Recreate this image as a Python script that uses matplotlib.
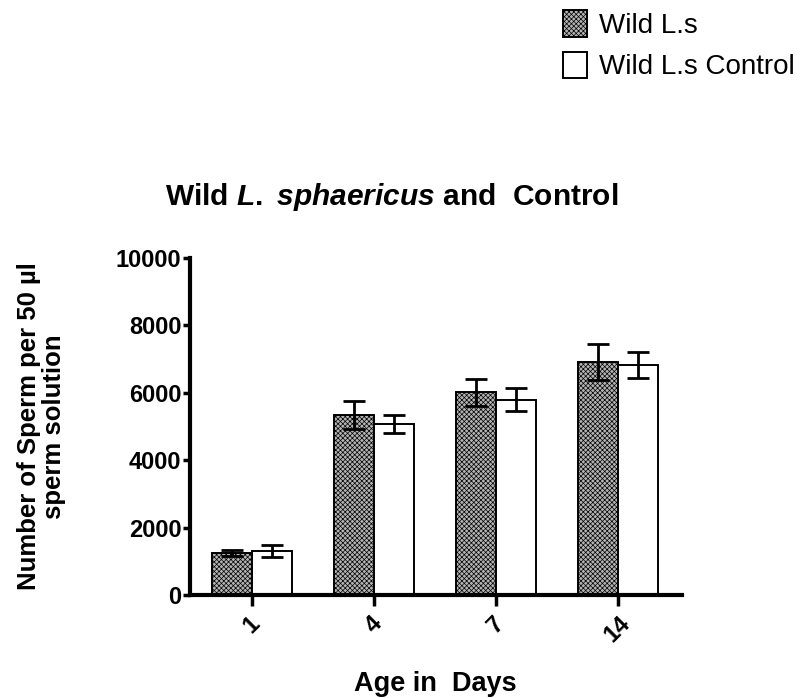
import matplotlib
matplotlib.use("Agg")
import matplotlib.pyplot as plt
import numpy as np
from matplotlib.patches import Patch

plt.rcParams["font.family"] = ["Liberation Sans", "DejaVu Sans"]
plt.rcParams["mathtext.fontset"] = "custom"
plt.rcParams["mathtext.it"] = "Liberation Sans:italic:bold"
plt.rcParams["mathtext.rm"] = "Liberation Sans:bold"
plt.rcParams["hatch.linewidth"] = 0.5

days = ["1", "4", "7", "14"]
wild = [1250, 5340, 6020, 6910]
wild_err = [95, 420, 400, 530]
control = [1300, 5070, 5790, 6820]
control_err = [170, 270, 340, 380]

fig = plt.figure(figsize=(8.01, 6.98), dpi=100)
ax = fig.add_axes([0.237, 0.1476, 0.614, 0.4828])

x = np.arange(len(days))
w = 0.328
gray = "#b4b4b4"
ax.bar(x - w / 2, wild, w, facecolor=gray, edgecolor="black", hatch="xxxxxxx",
       linewidth=1.4, label="Wild L.s")
ax.bar(x + w / 2, control, w, facecolor="white", edgecolor="black",
       linewidth=1.4, label="Wild L.s Control")
ax.errorbar(x - w / 2, wild, yerr=wild_err, fmt="none", ecolor="black",
            elinewidth=2, capsize=8, capthick=2)
ax.errorbar(x + w / 2, control, yerr=control_err, fmt="none", ecolor="black",
            elinewidth=2, capsize=8, capthick=2)

ax.set_xlim(-0.508, 3.525)
ax.set_ylim(0, 10000)
ax.set_yticks([0, 2000, 4000, 6000, 8000, 10000])
ax.set_xticks(x)
ax.set_xticklabels(days, rotation=45, ha="center", fontsize=17, fontweight="bold")
for lab in ax.get_yticklabels():
    lab.set_fontsize(17)
    lab.set_fontweight("bold")
ax.tick_params(axis="y", width=2.5, length=5, pad=1)
ax.tick_params(axis="x", width=2.5, length=8, pad=4)
for s in ["top", "right"]:
    ax.spines[s].set_visible(False)
for s in ["left", "bottom"]:
    ax.spines[s].set_linewidth(3)

ax.set_title(r"Wild $\mathit{L.}$ $\mathit{sphaericus}$ and  Control", fontsize=21.5,
             fontweight="bold", pad=38, x=0.41)
ax.set_xlabel("Age in  Days", fontsize=19.5, fontweight="bold", labelpad=18)
ax.set_ylabel("Number of Sperm per 50 µl\nsperm solution", fontsize=18.5,
              fontweight="bold", labelpad=36, linespacing=1.05)

fig.legend(handles=[Patch(facecolor=gray, edgecolor="black", hatch="xxxxxxx", linewidth=1.4),
                    Patch(facecolor="white", edgecolor="black", linewidth=1.4)],
           labels=["Wild L.s", "Wild L.s Control"], loc="upper right",
           bbox_to_anchor=(1.01, 1.005), frameon=False, fontsize=20,
           handlelength=0.85, handleheight=1.1, handletextpad=0.45, labelspacing=0.45,
           borderaxespad=0.1)

fig.savefig("out.png", dpi=100)
